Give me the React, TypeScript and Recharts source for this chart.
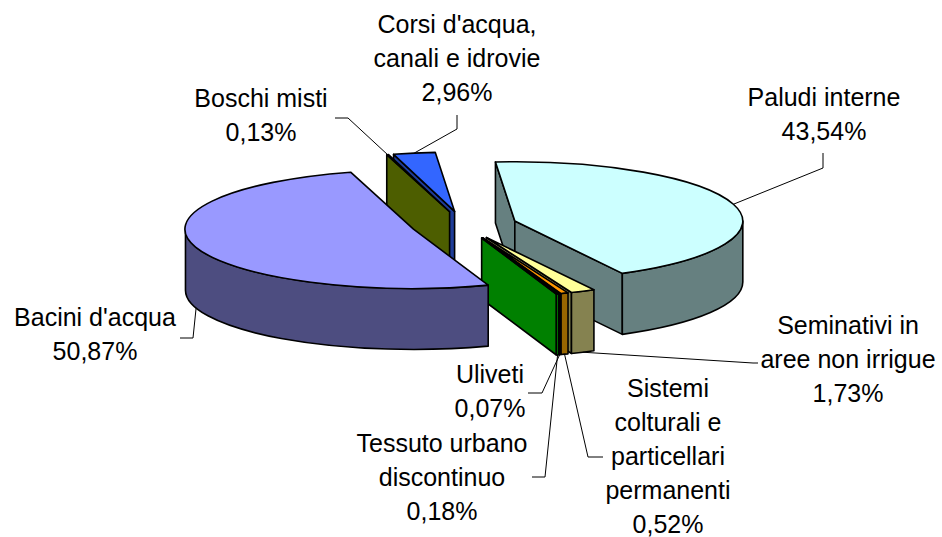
import { PieChart, Pie, Cell } from "recharts";

/* ─── land cover shares (%) in drawing order, clockwise ─── */
const categories = [
  "Boschi misti",
  "Corsi d'acqua, canali e idrovie",
  "Paludi interne",
  "Seminativi in aree non irrigue",
  "Sistemi colturali e particellari permanenti",
  "Uliveti",
  "Tessuto urbano discontinuo",
  "Bacini d'acqua",
];
const shares = [0.13, 2.96, 43.54, 1.73, 0.52, 0.07, 0.18, 50.87];
const labelRows = [
  ["Boschi misti"],
  ["Corsi d'acqua,", "canali e idrovie"],
  ["Paludi interne"],
  ["Seminativi in", "aree non irrigue"],
  ["Sistemi", "colturali e", "particellari", "permanenti"],
  ["Uliveti"],
  ["Tessuto urbano", "discontinuo"],
  ["Bacini d'acqua"],
];

const topColors = ["#808000", "#3366FF", "#CCFFFF", "#FFFF99", "#FF9900", "#C00000", "#00B000", "#9999FF"];
const sideColors = ["#4D5E00", "#1F3D99", "#668080", "#858250", "#996600", "#800000", "#008000", "#4D4D80"];

const data = categories.map((name, i) => ({ name, value: shares[i] }));

/* label placement: centre x, first baseline, leader elbow + end */
const labelPos = [
  { x: 261, y: 107, elbow: [348, 118], end: [335, 118] },
  { x: 457, y: 33, elbow: [457, 129], end: [457, 115] },
  { x: 824, y: 106, elbow: [823, 168], end: [823, 153] },
  { x: 848, y: 334, elbow: [753, 363], end: [758, 363] },
  { x: 668, y: 397, elbow: [588, 457], end: [603, 457] },
  { x: 490, y: 383, elbow: [542, 393], end: [528, 393] },
  { x: 442, y: 452, elbow: [545, 477], end: [532, 477] },
  { x: 95, y: 326, elbow: [193, 338], end: [180, 338] },
];

const TILT = 0.26; // ellipse squash
const DEPTH = 61; // slice thickness
const EXPLODE = 53;
const LINE_H = 34;
const FONT = "'Liberation Sans', Arial, sans-serif";

const rad = (d: number) => (d * Math.PI) / 180;
const fmt = (q: number[]) => `${q[0].toFixed(2)},${q[1].toFixed(2)}`;

function geom(p: any, th0: number, th1: number) {
  const tm = (th0 + th1) / 2;
  const cx = p.cx + EXPLODE * Math.sin(rad(tm));
  const cy = p.cy - EXPLODE * TILT * Math.cos(rad(tm));
  const R = p.outerRadius;
  const at = (th: number, dy = 0) => [cx + R * Math.sin(rad(th)), cy - R * TILT * Math.cos(rad(th)) + dy];
  return { cx, cy, R, at };
}

const makeSlice = (show: (i: number) => boolean) => (p: any) => {
  const i = categories.indexOf(p.name ?? p.payload?.name);
  if (!show(i)) return <g />;
  const t1 = 90 - Math.max(p.startAngle, p.endAngle);
  const t2 = 90 - Math.min(p.startAngle, p.endAngle);
  const { cx, cy, R, at } = geom(p, t1, t2);
  const ry = R * TILT;
  const line = { stroke: "#000", strokeWidth: 1.6, strokeLinejoin: "round" as const };
  const side = sideColors[i];
  const faces: any[] = [];

  const cut = (th: number) =>
    `M${fmt([cx, cy])}L${fmt(at(th))}L${fmt(at(th, DEPTH))}L${fmt([cx, cy + DEPTH])}Z`;
  if (Math.sin(rad(t1)) < 0) faces.push(<path key="c1" d={cut(t1)} fill={side} {...line} />);
  if (Math.sin(rad(t2)) > 0) faces.push(<path key="c2" d={cut(t2)} fill={side} {...line} />);

  for (let n = -1; n <= 2; n++) {
    const lo = Math.max(t1, 90 + 360 * n);
    const hi = Math.min(t2, 270 + 360 * n);
    if (hi > lo) {
      const d =
        `M${fmt(at(lo))}A${R},${ry} 0 0 1 ${fmt(at(hi))}` +
        `L${fmt(at(hi, DEPTH))}A${R},${ry} 0 0 0 ${fmt(at(lo, DEPTH))}Z`;
      faces.push(<path key={`w${n}`} d={d} fill={side} {...line} />);
    }
  }

  const large = t2 - t1 > 180 ? 1 : 0;
  const top = `M${fmt([cx, cy])}L${fmt(at(t1))}A${R},${ry} 0 ${large} 1 ${fmt(at(t2))}Z`;
  return (
    <g>
      {faces}
      <path d={top} fill={topColors[i]} {...line} />
    </g>
  );
};

const backSlice = makeSlice((i) => i === 1);
const restSlice = makeSlice((i) => i !== 1);

function renderLabel(p: any) {
  const i = categories.indexOf(p.name ?? p.payload?.name);
  const pos = labelPos[i];
  const t1 = 90 - Math.max(p.startAngle, p.endAngle);
  const t2 = 90 - Math.min(p.startAngle, p.endAngle);
  const tm = (t1 + t2) / 2;
  const { at } = geom(p, t1, t2);
  const anchor = at(tm, Math.cos(rad(tm)) < 0 ? DEPTH : 0);
  const rows = [...labelRows[i], `${shares[i].toFixed(2).replace(".", ",")}%`];
  return (
    <g key={`lab-${i}`}>
      <polyline
        points={[anchor, pos.elbow, pos.end].map(fmt).join(" ")}
        fill="none" stroke="#000" strokeWidth={1}
      />
      {rows.map((r, k) => (
        <text key={k} x={pos.x} y={pos.y + k * LINE_H} textAnchor="middle"
          fontFamily={FONT} fontSize={25} fill="#000">
          {r}
        </text>
      ))}
    </g>
  );
}

export default function App() {
  return (
    <div style={{ position: "absolute", left: 0, top: 0, background: "#fff" }}>
      <PieChart width={942} height={537}>
        <Pie data={data} dataKey="value" nameKey="name" cx={459} cy={220} outerRadius={228}
          startAngle={106} endAngle={-254} isAnimationActive={false} labelLine={false}
          shape={backSlice} inactiveShape={backSlice} activeShape={backSlice}>
          {data.map((d, i) => <Cell key={d.name} fill={topColors[i]} />)}
        </Pie>
        <Pie data={data} dataKey="value" nameKey="name" cx={459} cy={220} outerRadius={228}
          startAngle={106} endAngle={-254} isAnimationActive={false} labelLine={false}
          label={renderLabel}
          shape={restSlice} inactiveShape={restSlice} activeShape={restSlice}>
          {data.map((d, i) => <Cell key={d.name} fill={topColors[i]} />)}
        </Pie>
      </PieChart>
    </div>
  );
}
